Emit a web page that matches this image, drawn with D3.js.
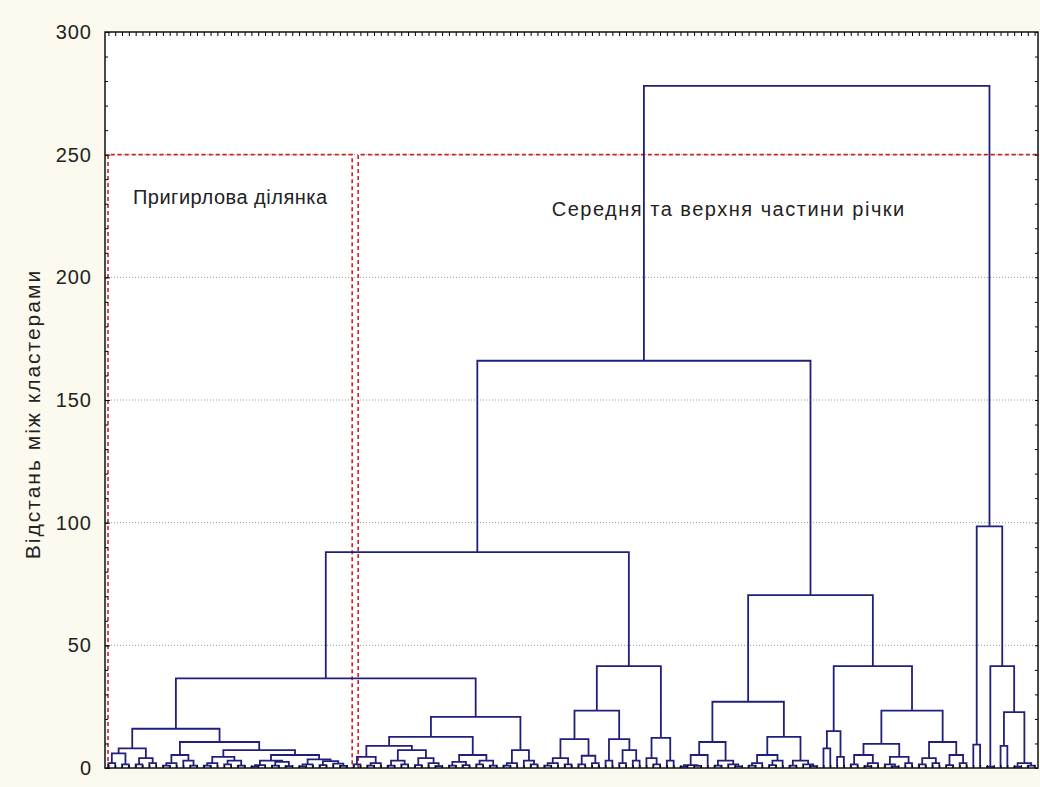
<!DOCTYPE html>
<html>
<head>
<meta charset="utf-8">
<script src="https://cdn.jsdelivr.net/npm/d3@7"></script>
<style>
  html, body { margin: 0; padding: 0; background: #fcf9ef; }
  svg { display: block; font-family: Arial, "Liberation Sans", sans-serif; }
</style>
</head>
<body>
<svg id="chart" width="1040" height="787"></svg>
<script>
// Tree nodes are [linkage distance, left, right]; a bare number is one case.
// Cases are read left to right off the picture.
var estuaryA = [8, [6, [2, 0, 1], [1.5, 2, 3]], [4, [1.5, 4, 5], [2, 6, 7]]];
var estuaryB1 = [5.3, [2, [1, 8, 9], 10], [3, 11, [1, 12, 13]]];
var estuaryB2a = [4.5, [2, [1, 14, 15], 16], [3, [1.5, 17, 18], [1, 19, 20]]];
var estuaryB2b = [5.3, [3, [1.2, [0.6, 21, 22], 23], [2.5, [1, 24, 25], [0.8, 26, 27]]],
  [3.5, [1.5, [0.7, 28, 29], 30], [2.8, [1.2, 31, 32], [1.8, 33, [0.9, 34, 35]]]]];
var estuary = [16, estuaryA, [10.6, estuaryB1, [7.3, estuaryB2a, estuaryB2b]]];

var middleC1 = [9, [4.5, [1.5, 36, 37], [2, [1, 38, 39], 40]],
  [7.3, [3, [1, 41, 42], [1.5, 43, 44]], [4, [1.2, 45, 46], [2, 47, [0.8, 48, 49]]]]];
var middleC2 = [5.3, [2.5, [1, 50, 51], [1.2, 52, 53]], [3, [1.5, 54, 55], [1, 56, 57]]];
var middleD = [7.3, [2, [1, 58, 59], 60], [3, 61, [1.5, 62, 63]]];
var middle = [20.8, [12.7, middleC1, middleC2], middleD];

var upperE1 = [11.8, [4, [2, [1, 64, 65], 66], [1.5, 67, 68]], [5, [1.5, 69, 70], [2, 71, 72]]];
var upperE2 = [11.8, [3, 73, 74], [7.3, [2, 75, 76], [3, 77, 78]]];
var upperF = [12.3, [4, 79, [1.5, 80, 81]], [3, 82, 83]];
var upper = [41.5, [23.4, upperE1, upperE2], upperF];

var sourceG = [27, [10.6, [5.3, [1.2, [0.6, 84, 85], [0.9, 86, 87]], 88], [3, [1, 89, 90], [1.5, 91, [0.7, 92, 93]]]],
  [12.7, [5.3, [2, [1, 94, 95], 96], [3, [1.2, 97, 98], 99]], [3, [1, 100, 101], [1.5, 102, [0.8, 103, 104]]]]];
var sourceH = [41.5, [15, [8, 105, 106], [4.5, 107, 108]],
  [23.4, [9.8, [5.3, [1.5, 109, 110], [2, [0.8, 111, 112], 113]], [4.5, [1.5, 114, [0.6, 115, 116]], [2, 117, 118]]],
    [10.6, [4, [1.5, 119, 120], [2, 121, 122]], [5.3, [1.2, 123, 124], [2, 125, 126]]]]];
var outliers = [98.5, [9.5, 127, 128], [41.5, [0.5, 129, 130], [22.8, [9, 131, 132], [2, [0.5, 133, 134], [1, 135, 136]]]]];

var tree = [278, [166, [88, [36.5, estuary, middle], upper], [70.5, sourceG, sourceH]], outliers];

var yTicks = [0, 50, 100, 150, 200, 250, 300];
var yTitle = 'Відстань між кластерами';

// cut level and the two groups of cases it marks (by case index)
var cutLevel = 250;
var groupNames = ['Пригирлова ділянка', 'Середня та верхня частини річки'];
var groupFirst = [0, 36];
var groupLast = [35, 136];
var noteAt = [[3.6, 230], [65.1, 225]]; // [case index, distance] of each label start

var width = 1040, height = 787;
var margin = { top: 32, right: 2, bottom: 19, left: 105 };
var noteSpacing = ['0.5px', '1.5px'];

var svg = d3.select('#chart');

// build the layout: leaves get their order, parents sit midway
var root = d3.hierarchy(tree, function(d) { return Array.isArray(d) ? d.slice(1) : null; });
var leaves = root.leaves();
leaves.forEach(function(l, i) { l.ix = i; });
root.eachAfter(function(n) {
  if (n.children) {
    n.ix = (n.children[0].ix + n.children[1].ix) / 2;
    n.h = n.data[0];
  } else {
    n.h = 0;
  }
});

var x = d3.scaleLinear()
  .domain([-0.5, leaves.length - 0.5])
  .range([margin.left, width - margin.right]);
var y = d3.scaleLinear()
  .domain([0, 300])
  .range([height - margin.bottom, margin.top]);

var x0 = x.range()[0], x1 = x.range()[1];
var y0 = y.range()[0], y1 = y.range()[1];

svg.append('rect')
  .attr('x', x0).attr('y', y1)
  .attr('width', x1 - x0).attr('height', y0 - y1)
  .attr('fill', '#ffffff');

// dotted grid
svg.append('g')
  .selectAll('line')
  .data(yTicks.filter(function(t) { return t > 0 && t < 300; }))
  .enter().append('line')
  .attr('x1', x0).attr('x2', x1)
  .attr('y1', function(d) { return y(d); })
  .attr('y2', function(d) { return y(d); })
  .attr('stroke', '#9a9a9a')
  .attr('stroke-width', 1)
  .attr('stroke-dasharray', '1,2');

// cut boxes
var boxes = svg.append('g')
  .attr('fill', 'none')
  .attr('stroke', '#cc2222')
  .attr('stroke-width', 1.6)
  .attr('stroke-dasharray', '4,3');

groupNames.forEach(function(name, i) {
  var left = x(groupFirst[i] - 0.5) + (i === 0 ? 3 : 8);
  var right = i === 0 ? x(groupLast[i] + 0.5) + 2 : x1;
  boxes.append('path')
    .attr('d', 'M' + left + ',' + y0 + 'V' + y(cutLevel) + 'H' + right + (i === 0 ? 'V' + y0 : ''));
});

// dendrogram links
svg.append('g')
  .attr('fill', 'none')
  .attr('stroke', '#20207c')
  .attr('stroke-width', 1.8)
  .selectAll('path')
  .data(root.descendants().filter(function(n) { return n.children; }))
  .enter().append('path')
  .attr('d', function(n) {
    var a = n.children[0], b = n.children[1];
    return 'M' + x(a.ix) + ',' + y(a.h) +
      'V' + y(n.h) +
      'H' + x(b.ix) +
      'V' + y(b.h);
  });

// annotations
svg.append('g')
  .selectAll('text')
  .data(groupNames)
  .enter().append('text')
  .attr('x', function(d, i) { return x(noteAt[i][0]); })
  .attr('y', function(d, i) { return y(noteAt[i][1]); })
  .attr('fill', '#222')
  .style('font-size', '20px')
  .style('letter-spacing', function(d, i) { return noteSpacing[i]; })
  .text(function(d) { return d; });

// axes
var leafIdx = d3.range(leaves.length);
var minor = d3.range(0, 301, 10);

svg.append('g')
  .attr('transform', 'translate(' + x0 + ',0)')
  .call(d3.axisLeft(y).tickValues(minor).tickSize(-3).tickFormat(''))
  .call(function(g) { g.select('.domain').remove(); });

svg.append('g')
  .attr('transform', 'translate(' + x0 + ',0)')
  .call(d3.axisLeft(y).tickValues(yTicks).tickSizeInner(-5).tickSizeOuter(0).tickPadding(13))
  .call(function(g) {
    g.select('.domain').remove();
    g.selectAll('text')
      .attr('fill', '#222')
      .style('font-size', '20px')
      .style('letter-spacing', '1px')
      .style('font-family', 'Arial, "Liberation Sans", sans-serif');
  });

svg.append('g')
  .attr('transform', 'translate(' + x1 + ',0)')
  .call(d3.axisRight(y).tickValues(minor).tickSize(-3).tickFormat(''))
  .call(function(g) { g.select('.domain').remove(); });

svg.append('g')
  .attr('transform', 'translate(0,' + y1 + ')')
  .call(d3.axisTop(x).tickValues(leafIdx).tickSize(-4).tickFormat(''))
  .call(function(g) { g.select('.domain').remove(); });

svg.append('g')
  .attr('transform', 'translate(0,' + y0 + ')')
  .call(d3.axisBottom(x).tickValues(leafIdx).tickSize(-3).tickFormat(''))
  .call(function(g) { g.select('.domain').remove(); });

svg.append('rect')
  .attr('x', x0).attr('y', y1)
  .attr('width', x1 - x0).attr('height', y0 - y1)
  .attr('fill', 'none')
  .attr('stroke', '#111')
  .attr('stroke-width', 1.5);

svg.append('text')
  .attr('transform', 'translate(40,' + 414 + ') rotate(-90)')
  .attr('text-anchor', 'middle')
  .attr('fill', '#222')
  .style('font-size', '21px')
  .style('letter-spacing', '2px')
  .text(yTitle);
</script>
</body>
</html>
